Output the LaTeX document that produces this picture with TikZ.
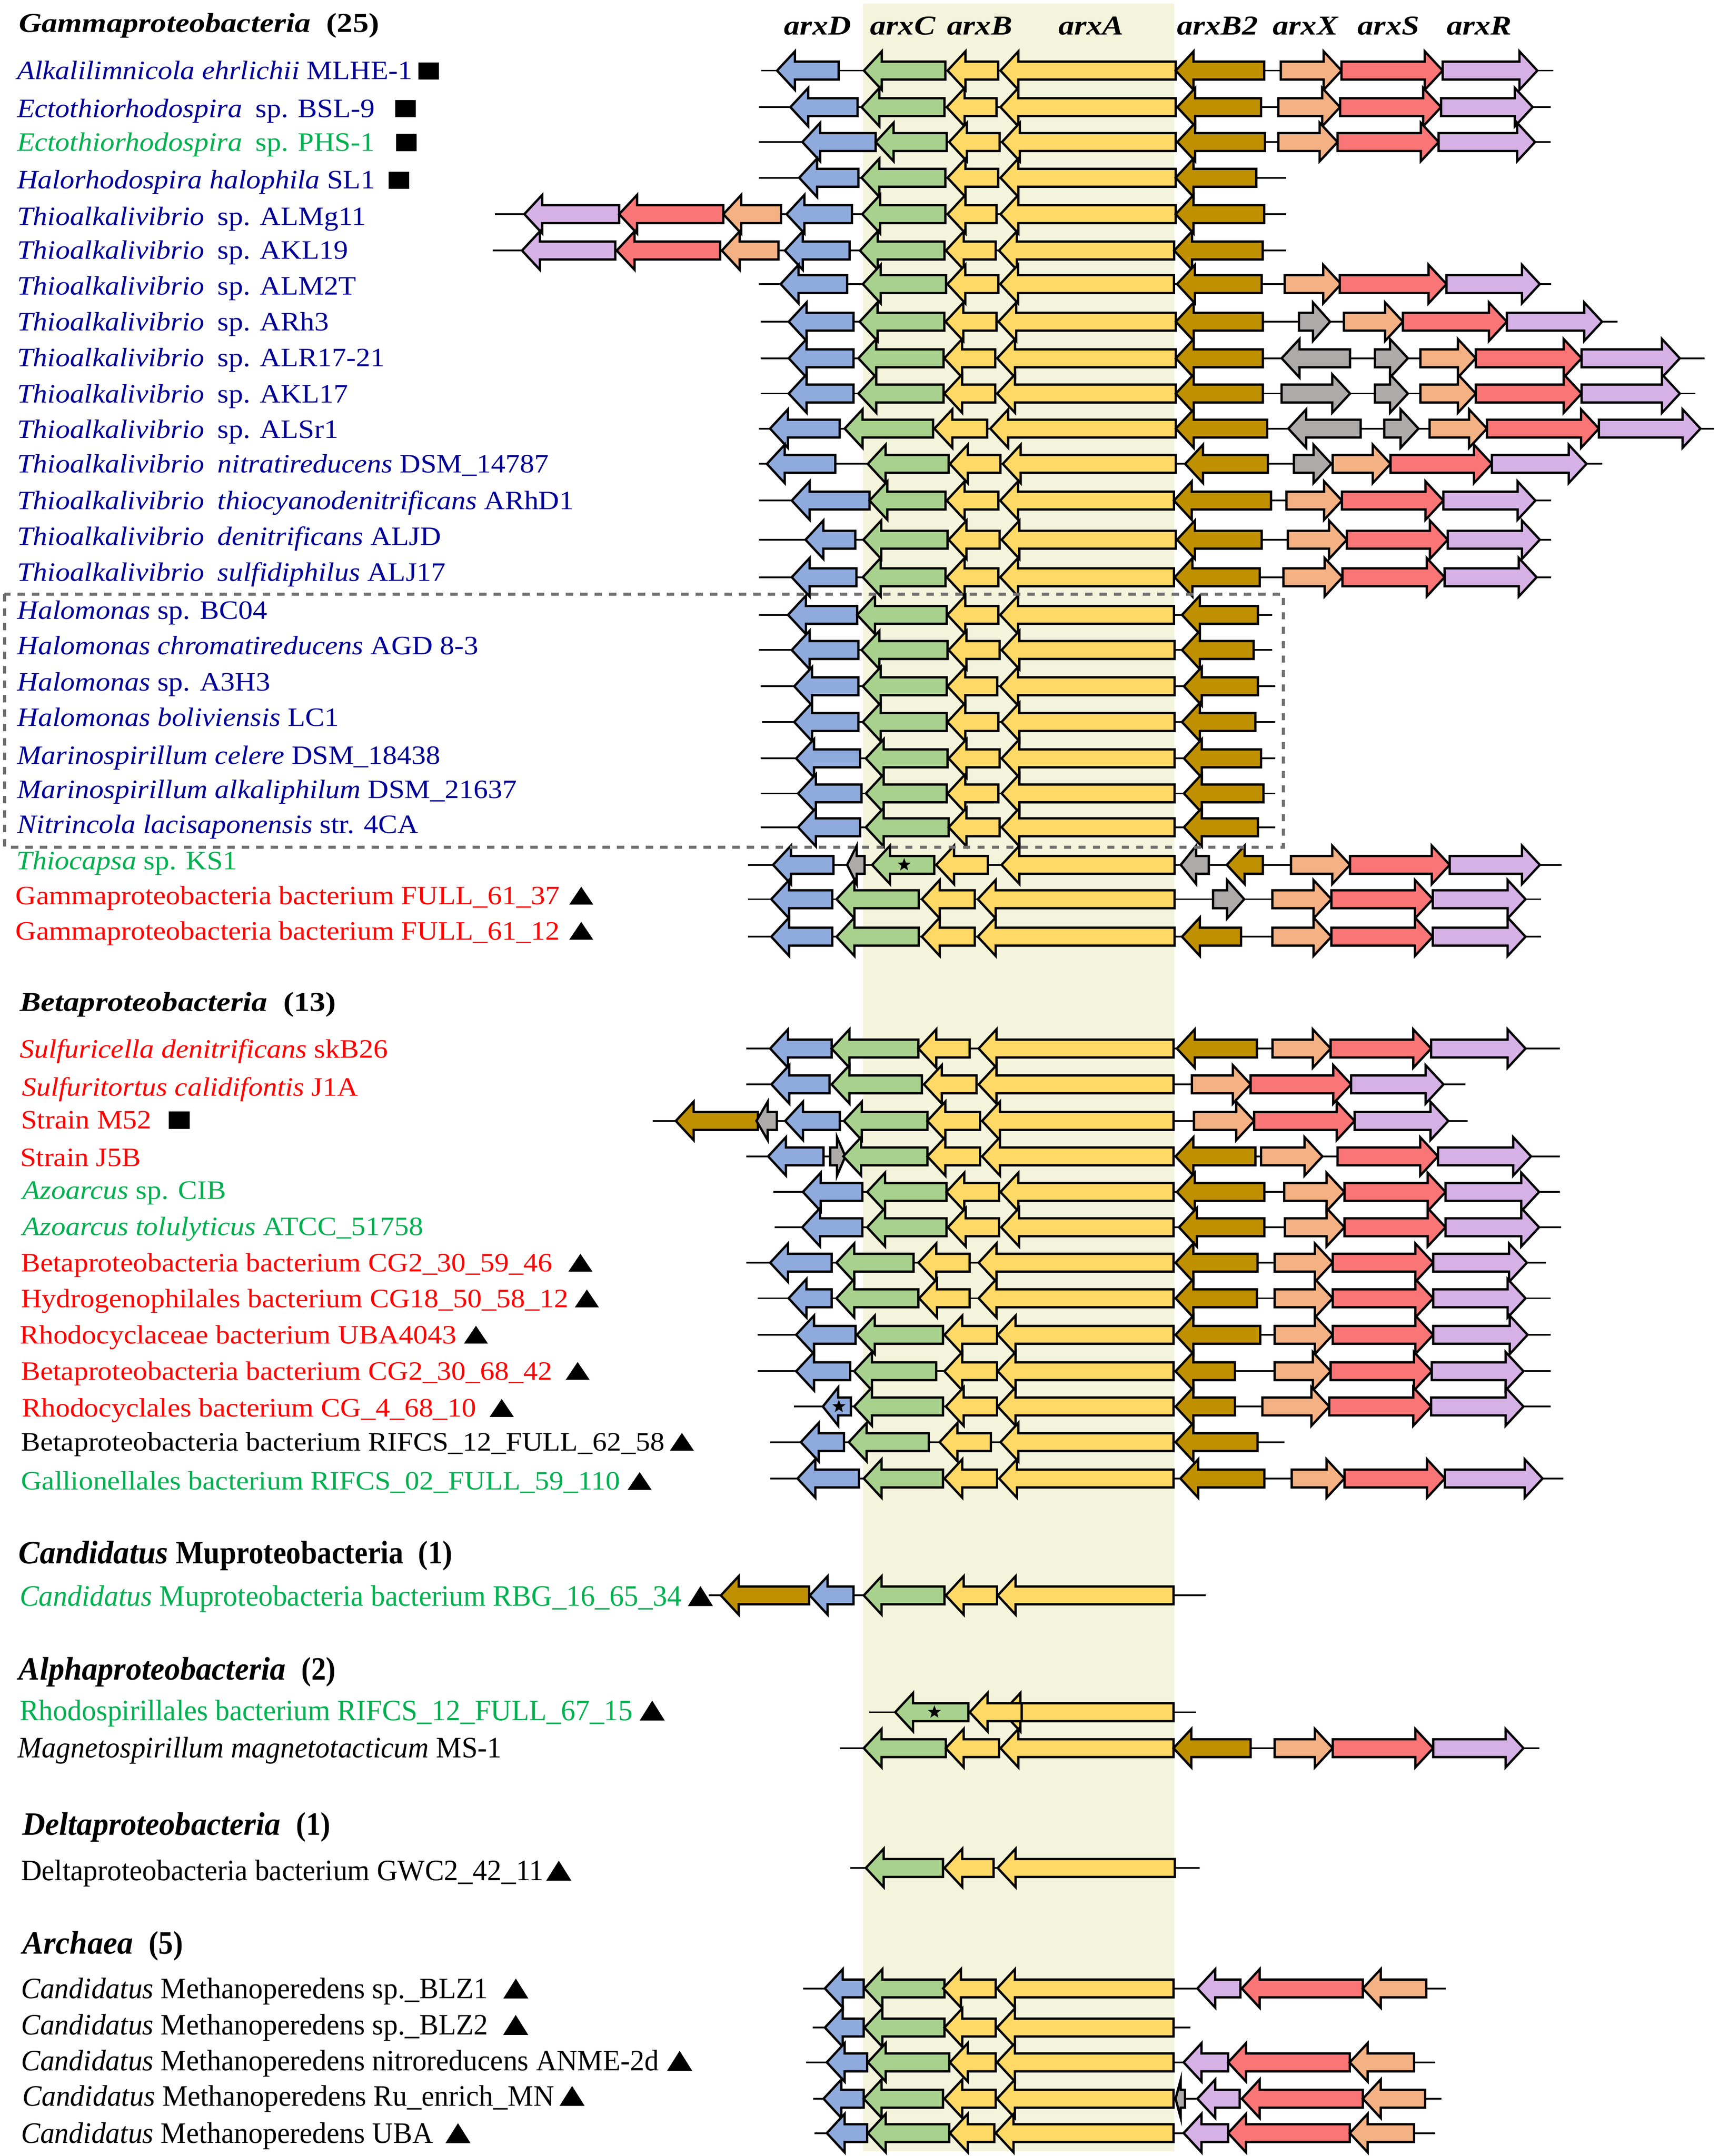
\documentclass[tikz,border=0pt]{standalone}
\usepackage{fontspec}
\setmainfont{Liberation Serif}
\newfontfamily\labfont{Liberation Serif}[FakeStretch=1.085]
\newfontfamily\lowfont{Liberation Serif}[FakeStretch=0.968]
\newfontfamily\genefont{Liberation Serif}[FakeStretch=1.16]
\newfontfamily\lowhdrfont{Liberation Serif}[FakeStretch=0.97]
\newfontfamily\lowhdrup{Liberation Serif}[FakeStretch=0.9]
\usetikzlibrary{calc,shapes.geometric}
\definecolor{cD}{RGB}{143,170,220}
\definecolor{cC}{RGB}{169,209,142}
\definecolor{cA}{RGB}{255,217,102}
\definecolor{cBB}{RGB}{191,144,0}
\definecolor{cX}{RGB}{244,177,131}
\definecolor{cS}{RGB}{250,117,117}
\definecolor{cR}{RGB}{213,177,229}
\definecolor{cG}{RGB}{174,170,170}
\definecolor{bandc}{RGB}{244,244,220}
\definecolor{navy}{RGB}{0,0,150}
\definecolor{tgreen}{RGB}{0,176,80}
\definecolor{tred}{RGB}{255,0,0}
\definecolor{boxgray}{RGB}{112,112,112}
\tikzset{
  genebox/.style={draw=black, line width=0.95pt, line join=miter},
  backbone/.style={draw=black, line width=0.7pt},
  lab/.style={anchor=base west, inner sep=0pt, font={\labfont\fontsize{11}{13}\selectfont}},
  lowlab/.style={anchor=base west, inner sep=0pt, font={\lowfont\fontsize{12.3}{14}\selectfont}},
  hdr/.style={anchor=base west, inner sep=0pt, font={\genefont\fontsize{11.3}{13}\selectfont\bfseries}},
  lowhdr/.style={anchor=base west, inner sep=0pt, font={\lowhdrfont\fontsize{13.5}{15}\selectfont\bfseries}},
  genename/.style={anchor=base, inner sep=0pt, font={\genefont\fontsize{11.3}{13}\selectfont\bfseries\itshape}},
  starm/.style={star, star points=5, star point ratio=2.4, fill=black, inner sep=0pt, minimum size=0.2cm},
  dashbox/.style={draw=boxgray, line width=1.3pt, dash pattern=on 0.105cm off 0.105cm}
}
\newcommand{\geneL}[4]{%
  \pgfmathsetmacro{\ghl}{min(13,0.55*(#3-#2))}%
  \filldraw[genebox,fill=#1] (#2,#4) -- (#2+\ghl,#4-14) -- (#2+\ghl,#4-6.5) -- (#3,#4-6.5) -- (#3,#4+6.5) -- (#2+\ghl,#4+6.5) -- (#2+\ghl,#4+14) -- cycle;}
\newcommand{\geneR}[4]{%
  \pgfmathsetmacro{\ghl}{min(13,0.55*(#3-#2))}%
  \filldraw[genebox,fill=#1] (#3,#4) -- (#3-\ghl,#4-14) -- (#3-\ghl,#4-6.5) -- (#2,#4-6.5) -- (#2,#4+6.5) -- (#3-\ghl,#4+6.5) -- (#3-\ghl,#4+14) -- cycle;}
\newcommand{\bbone}[3]{\draw[backbone] (#1,#3) -- (#2,#3);}
\newcommand{\trimark}[4]{\fill ($(#1.base east)+(#2,0)$) -- ++(#3,0) -- ++(-#3/2,-#4) -- cycle;}
\newcommand{\sqmark}[2]{\fill ($(#1.base east)+(#2,0)$) rectangle ++(15,-12.5);}
\begin{document}
\begin{tikzpicture}[x=0.02cm,y=-0.02cm]
\useasboundingbox (0,0) rectangle (1251,1569.5);
\fill[white] (0,0) rectangle (1251,1569.5);
\fill[bandc] (628,2.6) rectangle (854.5,1566);

% gene names
\node[genename] (nD) at (595,25.4) {arxD};
\node[genename] (nC) at (657,25.4) {arxC};
\node[genename] (nB) at (713,25.4) {arxB};
\node[genename] (nA) at (794,25.4) {arxA};
\node[genename] (nB2) at (886,25.4) {arxB2};
\node[genename] (nX) at (950,25.4) {arxX};
\node[genename] (nS) at (1010.5,25.4) {arxS};
\node[genename] (nR) at (1076.5,25.4) {arxR};

% ---------- Gamma rows ----------
\def\ry{51.4}
\bbone{554}{1130.3}{\ry}
\geneL{cD}{565.5}{610.3}{\ry}\geneL{cC}{628.7}{687.9}{\ry}\geneL{cA}{689.6}{726.4}{\ry}\geneL{cA}{728.1}{855.6}{\ry}\geneL{cBB}{855.6}{920}{\ry}
\geneR{cX}{932.1}{976.3}{\ry}\geneR{cS}{976.3}{1049.9}{\ry}\geneR{cR}{1049.9}{1118.8}{\ry}

\def\ry{78}
\bbone{552.3}{1128.6}{\ry}
\geneL{cD}{575.2}{624.1}{\ry}\geneL{cC}{627}{687.3}{\ry}\geneL{cA}{689}{725.2}{\ry}\geneL{cA}{728.1}{855.6}{\ry}\geneL{cBB}{856.8}{917.7}{\ry}
\geneR{cX}{930.3}{975.2}{\ry}\geneR{cS}{975.2}{1048.7}{\ry}\geneR{cR}{1048.7}{1115.4}{\ry}

\def\ry{103.4}
\bbone{552.3}{1128.6}{\ry}
\geneL{cD}{583.9}{637.3}{\ry}\geneL{cC}{637.3}{689}{\ry}\geneL{cA}{690.7}{727.5}{\ry}\geneL{cA}{729.2}{855.6}{\ry}\geneL{cBB}{856.8}{920.6}{\ry}
\geneR{cX}{930.3}{973.4}{\ry}\geneR{cS}{973.4}{1047}{\ry}\geneR{cR}{1047}{1117.1}{\ry}

\def\ry{129.4}
\bbone{552.3}{936.1}{\ry}
\geneL{cD}{581.6}{624.7}{\ry}\geneL{cC}{627}{687.9}{\ry}\geneL{cA}{689.6}{726.4}{\ry}\geneL{cA}{728.1}{855.6}{\ry}\geneL{cBB}{855.6}{914.3}{\ry}

\def\ry{155.9}
\bbone{360.3}{936.1}{\ry}
\geneL{cR}{381.6}{450.6}{\ry}\geneL{cS}{450.6}{526.4}{\ry}\geneL{cX}{526.4}{568.4}{\ry}
\geneL{cD}{572.4}{620}{\ry}\geneL{cC}{627.5}{687.9}{\ry}\geneL{cA}{689.6}{725.2}{\ry}\geneL{cA}{728.1}{855.6}{\ry}\geneL{cBB}{855.6}{920}{\ry}

\def\ry{182.4}
\bbone{358.6}{936.1}{\ry}
\geneL{cR}{379.9}{447.7}{\ry}\geneL{cS}{448.8}{524.1}{\ry}\geneL{cX}{525.3}{566.6}{\ry}
\geneL{cD}{571.2}{618.3}{\ry}\geneL{cC}{625.8}{687.3}{\ry}\geneL{cA}{688.4}{724.6}{\ry}\geneL{cA}{727}{854.5}{\ry}\geneL{cBB}{854.5}{918.9}{\ry}

\def\ry{206.8}
\bbone{552.2}{1128.8}{\ry}
\geneL{cD}{568.1}{616.5}{\ry}\geneL{cC}{627.9}{688.5}{\ry}\geneL{cA}{689.5}{726.6}{\ry}\geneL{cA}{727.9}{854.3}{\ry}\geneL{cBB}{856.6}{918.2}{\ry}
\geneR{cX}{934.9}{976}{\ry}\geneR{cS}{975}{1052.7}{\ry}\geneR{cR}{1052.7}{1120.6}{\ry}

\def\ry{234.2}
\bbone{553.6}{1177.2}{\ry}
\geneL{cD}{574}{621.1}{\ry}\geneL{cC}{625.6}{687.2}{\ry}\geneL{cA}{688.1}{725.2}{\ry}\geneL{cA}{726.6}{855.7}{\ry}\geneL{cBB}{855.7}{919.1}{\ry}
\geneR{cG}{945.3}{968}{\ry}\geneR{cX}{978}{1021}{\ry}\geneR{cS}{1021}{1096.6}{\ry}\geneR{cR}{1096.6}{1165.9}{\ry}

\def\ry{260.8}
\bbone{553.6}{1240.6}{\ry}
\geneL{cD}{574}{621.1}{\ry}\geneL{cC}{624.7}{686.7}{\ry}\geneL{cA}{687.2}{724.3}{\ry}\geneL{cA}{725.7}{855.7}{\ry}\geneL{cBB}{855.7}{919.1}{\ry}
\geneL{cG}{932.7}{982.5}{\ry}\geneR{cG}{1000.6}{1024.6}{\ry}\geneR{cX}{1033.7}{1074}{\ry}\geneR{cS}{1074}{1151}{\ry}\geneR{cR}{1151}{1222.5}{\ry}

\def\ry{286.5}
\bbone{553.6}{1233.8}{\ry}
\geneL{cD}{574}{621.1}{\ry}\geneL{cC}{624.7}{686.7}{\ry}\geneL{cA}{687.2}{724.3}{\ry}\geneL{cA}{725.7}{855.7}{\ry}\geneL{cBB}{855.7}{919.1}{\ry}
\geneR{cG}{932.7}{982.5}{\ry}\geneR{cG}{1000.6}{1024.6}{\ry}\geneR{cX}{1033.7}{1074}{\ry}\geneR{cS}{1074}{1151}{\ry}\geneR{cR}{1151}{1222.5}{\ry}

\def\ry{312}
\bbone{552.2}{1247.4}{\ry}
\geneL{cD}{560.4}{611.1}{\ry}\geneL{cC}{614.7}{679}{\ry}\geneL{cA}{680}{718.4}{\ry}\geneL{cA}{720.7}{855.7}{\ry}\geneL{cBB}{855.7}{922.2}{\ry}
\geneL{cG}{937.6}{990.2}{\ry}\geneR{cG}{1007.4}{1032.3}{\ry}\geneR{cX}{1040.4}{1082.1}{\ry}\geneR{cS}{1082.1}{1163.6}{\ry}\geneR{cR}{1163.6}{1237.5}{\ry}

\def\ry{337.7}
\bbone{552.2}{1165.9}{\ry}
\geneL{cD}{558.1}{607.9}{\ry}\geneL{cC}{631.5}{690.4}{\ry}\geneL{cA}{691.3}{728}{\ry}\geneL{cA}{729.8}{855.7}{\ry}\geneL{cBB}{862.5}{922.7}{\ry}
\geneR{cG}{941.7}{968.9}{\ry}\geneR{cX}{969.8}{1012}{\ry}\geneR{cS}{1012}{1085.7}{\ry}\geneR{cR}{1085.7}{1154.6}{\ry}

\def\ry{364.4}
\bbone{552.2}{1128.8}{\ry}
\geneL{cD}{576.2}{632.8}{\ry}\geneL{cC}{632.8}{688.1}{\ry}\geneL{cA}{689}{726.6}{\ry}\geneL{cA}{727.9}{854.3}{\ry}\geneL{cBB}{854.3}{925}{\ry}
\geneR{cX}{936.3}{976.6}{\ry}\geneR{cS}{976.6}{1050.4}{\ry}\geneR{cR}{1050.4}{1117.4}{\ry}

\def\ry{392.9}
\bbone{552.2}{1128.8}{\ry}
\geneL{cD}{586.2}{622.4}{\ry}\geneL{cC}{628.3}{689.5}{\ry}\geneL{cA}{690.4}{727.5}{\ry}\geneL{cA}{728.9}{855.7}{\ry}\geneL{cBB}{856.6}{918.2}{\ry}
\geneR{cX}{937.2}{980.2}{\ry}\geneR{cS}{980.2}{1053.6}{\ry}\geneR{cR}{1053.6}{1120.6}{\ry}

\def\ry{420.2}
\bbone{552.2}{1128.8}{\ry}
\geneL{cD}{576.2}{623.3}{\ry}\geneL{cC}{627.9}{688.1}{\ry}\geneL{cA}{689}{726.6}{\ry}\geneL{cA}{727.9}{854.3}{\ry}\geneL{cBB}{854.8}{916.8}{\ry}
\geneR{cX}{934}{977}{\ry}\geneR{cS}{977}{1051.3}{\ry}\geneR{cR}{1051.3}{1118.3}{\ry}

\def\ry{447.6}
\bbone{552.2}{925.9}{\ry}
\geneL{cD}{573.5}{623.8}{\ry}\geneL{cC}{623.8}{689}{\ry}\geneL{cA}{689.5}{726.6}{\ry}\geneL{cA}{727.9}{854.3}{\ry}\geneL{cBB}{860.2}{915.4}{\ry}

\def\ry{473.2}
\bbone{552.2}{925.9}{\ry}
\geneL{cD}{576.2}{624.7}{\ry}\geneL{cC}{627}{689.5}{\ry}\geneL{cA}{690.4}{727.5}{\ry}\geneL{cA}{728.9}{854.8}{\ry}\geneL{cBB}{860.2}{912.3}{\ry}

\def\ry{499.6}
\bbone{553.6}{928.1}{\ry}
\geneL{cD}{578}{624.7}{\ry}\geneL{cC}{627.9}{689}{\ry}\geneL{cA}{689.5}{725.7}{\ry}\geneL{cA}{727.9}{854.8}{\ry}\geneL{cBB}{861.6}{915.4}{\ry}

\def\ry{525.6}
\bbone{554.5}{928.1}{\ry}
\geneL{cD}{578}{624.7}{\ry}\geneL{cC}{627.9}{689}{\ry}\geneL{cA}{689.5}{726.6}{\ry}\geneL{cA}{728.9}{854.8}{\ry}\geneL{cBB}{860.2}{913.6}{\ry}

\def\ry{552.1}
\bbone{553.6}{928.1}{\ry}
\geneL{cD}{579.4}{626}{\ry}\geneL{cC}{630.1}{689.5}{\ry}\geneL{cA}{690.4}{727.5}{\ry}\geneL{cA}{728.9}{854.8}{\ry}\geneL{cBB}{861.6}{917.7}{\ry}

\def\ry{577.6}
\bbone{553.6}{928.1}{\ry}
\geneL{cD}{580.8}{627}{\ry}\geneL{cC}{630.1}{689}{\ry}\geneL{cA}{689.5}{726.6}{\ry}\geneL{cA}{728.9}{854.8}{\ry}\geneL{cBB}{861.6}{919.5}{\ry}

\def\ry{602.2}
\bbone{553.6}{928.1}{\ry}
\geneL{cD}{580.8}{626}{\ry}\geneL{cC}{630.1}{690.4}{\ry}\geneL{cA}{690.4}{727.5}{\ry}\geneL{cA}{728.9}{854.8}{\ry}\geneL{cBB}{861.6}{915.4}{\ry}

\def\ry{629.6}
\bbone{544.5}{1136.5}{\ry}
\geneL{cD}{562.6}{606.6}{\ry}\geneL{cG}{616.5}{629.2}{\ry}\geneL{cC}{634.7}{679.9}{\ry}\geneL{cA}{681.3}{718.9}{\ry}\geneL{cA}{728.9}{854.8}{\ry}
\geneL{cG}{859.3}{879.7}{\ry}\geneL{cBB}{892.8}{919.1}{\ry}
\geneR{cX}{939.5}{982.5}{\ry}\geneR{cS}{982.5}{1055}{\ry}\geneR{cR}{1055}{1120.6}{\ry}
\node[starm] (st1) at (658,\ry) {};

\def\ry{654.6}
\bbone{544.5}{1121.5}{\ry}
\geneL{cD}{561.3}{605.7}{\ry}\geneL{cC}{608.8}{668.6}{\ry}\geneL{cA}{670.9}{709.4}{\ry}\geneL{cA}{711.6}{854.8}{\ry}
\geneR{cG}{882.8}{905.5}{\ry}\geneR{cX}{925.9}{968.9}{\ry}\geneR{cS}{968.9}{1042.7}{\ry}\geneR{cR}{1042.7}{1110.2}{\ry}

\def\ry{681.9}
\bbone{544.5}{1121.5}{\ry}
\geneL{cD}{561.3}{605.7}{\ry}\geneL{cC}{608.8}{668.6}{\ry}\geneL{cA}{670.9}{709.4}{\ry}\geneL{cA}{711.6}{854.8}{\ry}
\geneL{cBB}{860.2}{903.2}{\ry}\geneR{cX}{925.9}{968.9}{\ry}\geneR{cS}{968.9}{1042.7}{\ry}\geneR{cR}{1042.7}{1110.2}{\ry}

% ---------- Beta rows ----------
\def\ry{763.3}
\bbone{543}{1135.1}{\ry}
\geneL{cD}{560.5}{605.2}{\ry}\geneL{cC}{605.2}{668.4}{\ry}\geneL{cA}{668.4}{705.7}{\ry}\geneL{cA}{712.2}{854}{\ry}\geneL{cBB}{856.5}{914.7}{\ry}
\geneR{cX}{926.1}{968.4}{\ry}\geneR{cS}{968.4}{1041.5}{\ry}\geneR{cR}{1041.5}{1110.2}{\ry}

\def\ry{789.4}
\bbone{543}{1066.4}{\ry}
\geneL{cD}{561.4}{603.7}{\ry}\geneL{cC}{605.2}{670.9}{\ry}\geneL{cA}{672.4}{710.7}{\ry}\geneL{cA}{712.2}{854}{\ry}
\geneR{cX}{867.4}{910.2}{\ry}\geneR{cS}{910.2}{983.3}{\ry}\geneR{cR}{983.3}{1050.5}{\ry}

\def\ry{816}
\bbone{474.9}{1067.9}{\ry}
\geneL{cBB}{491.8}{551.5}{\ry}\geneL{cG}{550.5}{565.4}{\ry}
\geneL{cD}{571.4}{611.2}{\ry}\geneL{cC}{614.2}{674.9}{\ry}\geneL{cA}{674.9}{713.2}{\ry}\geneL{cA}{714.7}{854}{\ry}
\geneR{cX}{868.9}{912.7}{\ry}\geneR{cS}{912.7}{985.8}{\ry}\geneR{cR}{985.8}{1054}{\ry}

\def\ry{841.8}
\bbone{543}{1135.1}{\ry}
\geneL{cD}{559}{599.3}{\ry}\geneR{cG}{604.2}{615.2}{\ry}\geneL{cC}{613.7}{674.9}{\ry}\geneL{cA}{674.9}{713.2}{\ry}\geneL{cA}{714.7}{854}{\ry}\geneL{cBB}{855.5}{913.7}{\ry}
\geneR{cX}{917.7}{962.4}{\ry}\geneR{cS}{973.4}{1046.5}{\ry}\geneR{cR}{1046.5}{1114.2}{\ry}

\def\ry{867.7}
\bbone{562.9}{1135.1}{\ry}
\geneL{cD}{584.3}{627.6}{\ry}\geneL{cC}{631.1}{688.8}{\ry}\geneL{cA}{688.8}{727.1}{\ry}\geneL{cA}{728.1}{854}{\ry}\geneL{cBB}{856.5}{920.1}{\ry}
\geneR{cX}{934.6}{978.4}{\ry}\geneR{cS}{978.4}{1052}{\ry}\geneR{cR}{1052}{1120.1}{\ry}

\def\ry{893.4}
\bbone{563.9}{1136.1}{\ry}
\geneL{cD}{583.8}{627.6}{\ry}\geneL{cC}{631.1}{688.8}{\ry}\geneL{cA}{689.8}{727.1}{\ry}\geneL{cA}{728.6}{854}{\ry}\geneL{cBB}{858}{920.1}{\ry}
\geneR{cX}{935.1}{978.4}{\ry}\geneR{cS}{978.4}{1052}{\ry}\geneR{cR}{1052}{1120.1}{\ry}

\def\ry{919.2}
\bbone{543}{1125.1}{\ry}
\geneL{cD}{560.5}{605.2}{\ry}\geneL{cC}{608.7}{664.9}{\ry}\geneL{cA}{668.4}{705.7}{\ry}\geneL{cA}{712.2}{854}{\ry}\geneL{cBB}{855.5}{915.2}{\ry}
\geneR{cX}{927.6}{969.9}{\ry}\geneR{cS}{969.9}{1043}{\ry}\geneR{cR}{1043}{1111.2}{\ry}

\def\ry{945.1}
\bbone{551.5}{1128.6}{\ry}
\geneL{cD}{573.9}{605.2}{\ry}\geneL{cC}{608.7}{668.4}{\ry}\geneL{cA}{668.9}{705.7}{\ry}\geneL{cA}{712.2}{854}{\ry}\geneL{cBB}{855.5}{914.7}{\ry}
\geneR{cX}{927.6}{969.9}{\ry}\geneR{cS}{969.9}{1043}{\ry}\geneR{cR}{1043}{1110.2}{\ry}

\def\ry{971.7}
\bbone{551.5}{1128.6}{\ry}
\geneL{cD}{579.4}{622.6}{\ry}\geneL{cC}{623.6}{686.3}{\ry}\geneL{cA}{687.3}{725.6}{\ry}\geneL{cA}{726.1}{854}{\ry}\geneL{cBB}{855.5}{917.2}{\ry}
\geneR{cX}{927.6}{969.9}{\ry}\geneR{cS}{969.9}{1043}{\ry}\geneR{cR}{1043}{1111.7}{\ry}

\def\ry{998.2}
\bbone{551.5}{1128.6}{\ry}
\geneL{cD}{579.4}{618.7}{\ry}\geneL{cC}{621.6}{681.3}{\ry}\geneL{cA}{687.3}{725.6}{\ry}\geneL{cA}{726.1}{854}{\ry}\geneL{cBB}{855.5}{898.7}{\ry}
\geneR{cX}{927.6}{968.4}{\ry}\geneR{cS}{968.4}{1042}{\ry}\geneR{cR}{1042}{1108.7}{\ry}

\def\ry{1023.9}
\bbone{577.9}{1128.6}{\ry}
\geneL{cD}{598.8}{619.2}{\ry}\geneL{cC}{621.6}{686.3}{\ry}\geneL{cA}{688.3}{725.6}{\ry}\geneL{cA}{726.1}{854}{\ry}\geneL{cBB}{855.5}{898.7}{\ry}
\geneR{cX}{918.7}{967.4}{\ry}\geneR{cS}{967.4}{1041.5}{\ry}\geneR{cR}{1041.5}{1108.7}{\ry}
\node[starm] (st2) at (610.5,\ry) {};

\def\ry{1049.8}
\bbone{560.5}{934.6}{\ry}
\geneL{cD}{582.8}{614.2}{\ry}\geneL{cC}{617.7}{675.9}{\ry}\geneL{cA}{683.8}{721.1}{\ry}\geneL{cA}{728.1}{854}{\ry}\geneL{cBB}{855.5}{915.2}{\ry}

\def\ry{1076.3}
\bbone{560.5}{1137.6}{\ry}
\geneL{cD}{580.4}{625.1}{\ry}\geneL{cC}{628.6}{686.3}{\ry}\geneL{cA}{687.3}{725.6}{\ry}\geneL{cA}{727.1}{854}{\ry}\geneL{cBB}{859}{920.1}{\ry}
\geneR{cX}{940.1}{978.4}{\ry}\geneR{cS}{978.4}{1051.5}{\ry}\geneR{cR}{1051.5}{1122.6}{\ry}

% ---------- Mupro ----------
\def\ry{1161.4}
\bbone{515.7}{877.4}{\ry}
\geneL{cBB}{524.6}{588.8}{\ry}\geneL{cD}{589.3}{621.1}{\ry}\geneL{cC}{628.6}{687.3}{\ry}\geneL{cA}{688.3}{725.6}{\ry}\geneL{cA}{726.1}{854}{\ry}

% ---------- Alpha ----------
\def\ry{1246.4}
\bbone{632.6}{870.4}{\ry}
\geneL{cC}{651.5}{704.7}{\ry}\geneL{cA}{729.6}{854}{\ry}\geneL{cA}{705.7}{743.5}{\ry}
\node[starm] (st3) at (680,\ry) {};

\def\ry{1272.6}
\bbone{611.2}{1120.1}{\ry}
\geneL{cC}{628.6}{688.3}{\ry}\geneL{cA}{688.3}{727.1}{\ry}\geneL{cA}{728.1}{854}{\ry}\geneL{cBB}{854}{910.2}{\ry}
\geneR{cX}{927.6}{969.9}{\ry}\geneR{cS}{969.9}{1043}{\ry}\geneR{cR}{1043}{1108.7}{\ry}

% ---------- Delta ----------
\def\ry{1359.8}
\bbone{618.7}{872.9}{\ry}
\geneL{cC}{630.1}{686.3}{\ry}\geneL{cA}{687.3}{723.1}{\ry}\geneL{cA}{726.1}{855}{\ry}

% ---------- Archaea ----------
\def\ry{1447.5}
\bbone{584.3}{1052}{\ry}
\geneL{cD}{600.3}{628.6}{\ry}\geneL{cC}{629.1}{687.3}{\ry}\geneL{cA}{686.3}{724.6}{\ry}\geneL{cA}{725.6}{854}{\ry}
\geneL{cR}{871.4}{902.7}{\ry}\geneL{cS}{903.7}{991.8}{\ry}\geneL{cX}{991.8}{1038}{\ry}

\def\ry{1476}
\bbone{591.3}{866.4}{\ry}
\geneL{cD}{600.3}{628.6}{\ry}\geneL{cC}{629.1}{687.3}{\ry}\geneL{cA}{687.3}{724.6}{\ry}\geneL{cA}{725.6}{854}{\ry}

\def\ry{1501.3}
\bbone{586.8}{1044.5}{\ry}
\geneL{cD}{601.7}{631.1}{\ry}\geneL{cC}{631.6}{690.8}{\ry}\geneL{cA}{691.3}{724.6}{\ry}\geneL{cA}{725.6}{854}{\ry}
\geneL{cR}{861.4}{893.8}{\ry}\geneL{cS}{893.8}{982.3}{\ry}\geneL{cX}{982.3}{1029.1}{\ry}

\def\ry{1527.8}
\bbone{591.8}{1049}{\ry}
\geneL{cD}{599.3}{628.6}{\ry}\geneL{cC}{628.6}{686.3}{\ry}\geneL{cA}{687.3}{724.6}{\ry}\geneL{cA}{725.6}{854}{\ry}\geneL{cG}{855.5}{862.4}{\ry}
\geneL{cR}{871.4}{902.2}{\ry}\geneL{cS}{903.7}{991.8}{\ry}\geneL{cX}{991.8}{1037.1}{\ry}

\def\ry{1552.8}
\bbone{592.8}{1044.5}{\ry}
\geneL{cD}{601.7}{631.1}{\ry}\geneL{cC}{631.6}{690.8}{\ry}\geneL{cA}{691.3}{723.6}{\ry}\geneL{cA}{724.6}{854}{\ry}
\geneL{cR}{861.4}{893.8}{\ry}\geneL{cS}{893.8}{982.3}{\ry}\geneL{cX}{982.3}{1029.1}{\ry}

% ---------- dashed box ----------
\draw[dashbox] (3.3,432.5) rectangle (934,616.7);

% ---------- labels: Gamma ----------
\node[hdr] (hg) at (13.4,23.3) {\itshape Gammaproteobacteria~~\upshape(25)};
\node[lab,text=navy] (g1) at (12.1,57.9) {\textit{Alkalilimnicola ehrlichii} MLHE-1};
\node[lab,text=navy] (g2) at (12.1,85.3) {\textit{Ectothiorhodospira}\hspace{0.5em}sp. BSL-9};
\node[lab,text=tgreen] (g3) at (12.1,110) {\textit{Ectothiorhodospira}\hspace{0.5em}sp. PHS-1};
\node[lab,text=navy] (g4) at (12.1,137.4) {\textit{Halorhodospira halophila} SL1};
\node[lab,text=navy] (g5) at (12.1,164) {\textit{Thioalkalivibrio}\hspace{0.5em}sp. ALMg11};
\node[lab,text=navy] (g6) at (12.1,188.6) {\textit{Thioalkalivibrio}\hspace{0.5em}sp. AKL19};
\node[lab,text=navy] (g7) at (12.1,214.7) {\textit{Thioalkalivibrio}\hspace{0.5em}sp. ALM2T};
\node[lab,text=navy] (g8) at (12.1,240.7) {\textit{Thioalkalivibrio}\hspace{0.5em}sp. ARh3};
\node[lab,text=navy] (g9) at (12.1,266.7) {\textit{Thioalkalivibrio}\hspace{0.5em}sp. ALR17-21};
\node[lab,text=navy] (g10) at (12.1,293.3) {\textit{Thioalkalivibrio}\hspace{0.5em}sp. AKL17};
\node[lab,text=navy] (g11) at (12.1,318.8) {\textit{Thioalkalivibrio}\hspace{0.5em}sp. ALSr1};
\node[lab,text=navy] (g12) at (12.1,344) {\textit{Thioalkalivibrio}\hspace{0.5em}\textit{nitratireducens} DSM\_14787};
\node[lab,text=navy] (g13) at (12.1,370.9) {\textit{Thioalkalivibrio}\hspace{0.5em}\textit{thiocyanodenitrificans} ARhD1};
\node[lab,text=navy] (g14) at (12.1,396.9) {\textit{Thioalkalivibrio}\hspace{0.5em}\textit{denitrificans} ALJD};
\node[lab,text=navy] (g15) at (12.1,423) {\textit{Thioalkalivibrio}\hspace{0.5em}\textit{sulfidiphilus} ALJ17};
\node[lab,text=navy] (g16) at (12.3,450.6) {\textit{Halomonas} sp. BC04};
\node[lab,text=navy] (g17) at (12.3,476.6) {\textit{Halomonas chromatireducens} AGD 8-3};
\node[lab,text=navy] (g18) at (12.3,503) {\textit{Halomonas} sp. A3H3};
\node[lab,text=navy] (g19) at (12.3,528.6) {\textit{Halomonas boliviensis} LC1};
\node[lab,text=navy] (g20) at (12.3,556.3) {\textit{Marinospirillum celere} DSM\_18438};
\node[lab,text=navy] (g21) at (12.3,581) {\textit{Marinospirillum alkaliphilum} DSM\_21637};
\node[lab,text=navy] (g22) at (12.3,606.6) {\textit{Nitrincola lacisaponensis} str. 4CA};
\node[lab,text=tgreen] (g23) at (11.6,633) {\textit{Thiocapsa} sp. KS1};
\node[lab,text=tred] (g24) at (11,658.5) {Gammaproteobacteria bacterium FULL\_61\_37};
\node[lab,text=tred] (g25) at (11,684.1) {Gammaproteobacteria bacterium FULL\_61\_12};
\sqmark{g1}{4}\sqmark{g2}{14.4}\sqmark{g3}{15}\sqmark{g4}{9.5}
\trimark{g24}{6.6}{17.5}{13}\trimark{g25}{6.6}{17.5}{13}

% ---------- labels: Beta ----------
\node[hdr] (hb) at (14,736.2) {\itshape Betaproteobacteria~~\upshape(13)};
\node[lab,text=tred] (b1) at (14,770.2) {\textit{Sulfuricella denitrificans} skB26};
\node[lab,text=tred] (b2) at (15.6,797.9) {\textit{Sulfuritortus calidifontis} J1A};
\node[lab,text=tred] (b3) at (15,821.7) {Strain M52};
\node[lab,text=tred] (b4) at (14.3,849) {Strain J5B};
\node[lab,text=tgreen] (b5) at (16,872.9) {\textit{Azoarcus} sp. CIB};
\node[lab,text=tgreen] (b6) at (16,899.3) {\textit{Azoarcus tolulyticus} ATCC\_51758};
\node[lab,text=tred] (b7) at (15,925.7) {Betaproteobacteria bacterium CG2\_30\_59\_46};
\node[lab,text=tred] (b8) at (15,951.7) {Hydrogenophilales bacterium CG18\_50\_58\_12};
\node[lab,text=tred] (b9) at (14,978.1) {Rhodocyclaceae bacterium UBA4043};
\node[lab,text=tred] (b10) at (15,1004.5) {Betaproteobacteria bacterium CG2\_30\_68\_42};
\node[lab,text=tred] (b11) at (15.6,1031.4) {Rhodocyclales bacterium CG\_4\_68\_10};
\node[lab,text=black] (b12) at (15,1056.1) {Betaproteobacteria bacterium RIFCS\_12\_FULL\_62\_58};
\node[lab,text=tgreen] (b13) at (15,1084.6) {Gallionellales bacterium RIFCS\_02\_FULL\_59\_110};
\sqmark{b3}{12.3}
\trimark{b7}{11.3}{17.5}{13}\trimark{b8}{4.3}{17.5}{13}\trimark{b9}{5}{17.5}{13}\trimark{b10}{9.3}{17.5}{13}
\trimark{b11}{9.3}{17.5}{13}\trimark{b12}{3.6}{17.5}{13}\trimark{b13}{5}{17.5}{13}

% ---------- labels: lower groups ----------
\node[lowhdr] (hm) at (13.3,1138.1) {\itshape Candidatus\upshape{} {\lowhdrup Muproteobacteria~~(1)}};
\node[lowlab,text=tgreen] (m1) at (14,1169.1) {\textit{Candidatus} Muproteobacteria bacterium RBG\_16\_65\_34};
\trimark{m1}{4.3}{18.2}{14.5}
\node[lowhdr] (ha) at (13.3,1223) {\itshape Alphaproteobacteria~~\upshape{\lowhdrup(2)}};
\node[lowlab,text=tgreen] (a1) at (14,1252.5) {Rhodospirillales bacterium RIFCS\_12\_FULL\_67\_15};
\node[lowlab,text=black] (a2) at (12.6,1279.6) {\textit{Magnetospirillum magnetotacticum} MS-1};
\trimark{a1}{4.6}{18.2}{14.5}
\node[lowhdr] (hd) at (16,1335.9) {\itshape Deltaproteobacteria~~\upshape{\lowhdrup(1)}};
\node[lowlab,text=black] (d1) at (15,1369) {Deltaproteobacteria bacterium GWC2\_42\_11};
\trimark{d1}{1.6}{18.2}{14.5}
\node[lowhdr] (hr) at (16,1422.3) {\itshape Archaea~~\upshape{\lowhdrup(5)}};
\node[lowlab] (r1) at (15,1454.8) {\textit{Candidatus} Methanoperedens sp.\_BLZ1};
\node[lowlab] (r2) at (15,1481.3) {\textit{Candidatus} Methanoperedens sp.\_BLZ2};
\node[lowlab] (r3) at (15,1507.4) {\textit{Candidatus} Methanoperedens nitroreducens ANME-2d};
\node[lowlab] (r4) at (16,1533) {\textit{Candidatus} Methanoperedens Ru\_enrich\_MN};
\node[lowlab] (r5) at (15,1560.1) {\textit{Candidatus} Methanoperedens UBA};
\trimark{r1}{10.7}{18.2}{14.5}\trimark{r2}{10.6}{18.2}{14.5}\trimark{r3}{5.6}{18.2}{14.5}
\trimark{r4}{3.6}{18.2}{14.5}\trimark{r5}{8.7}{18.2}{14.5}
\end{tikzpicture}
\end{document}
